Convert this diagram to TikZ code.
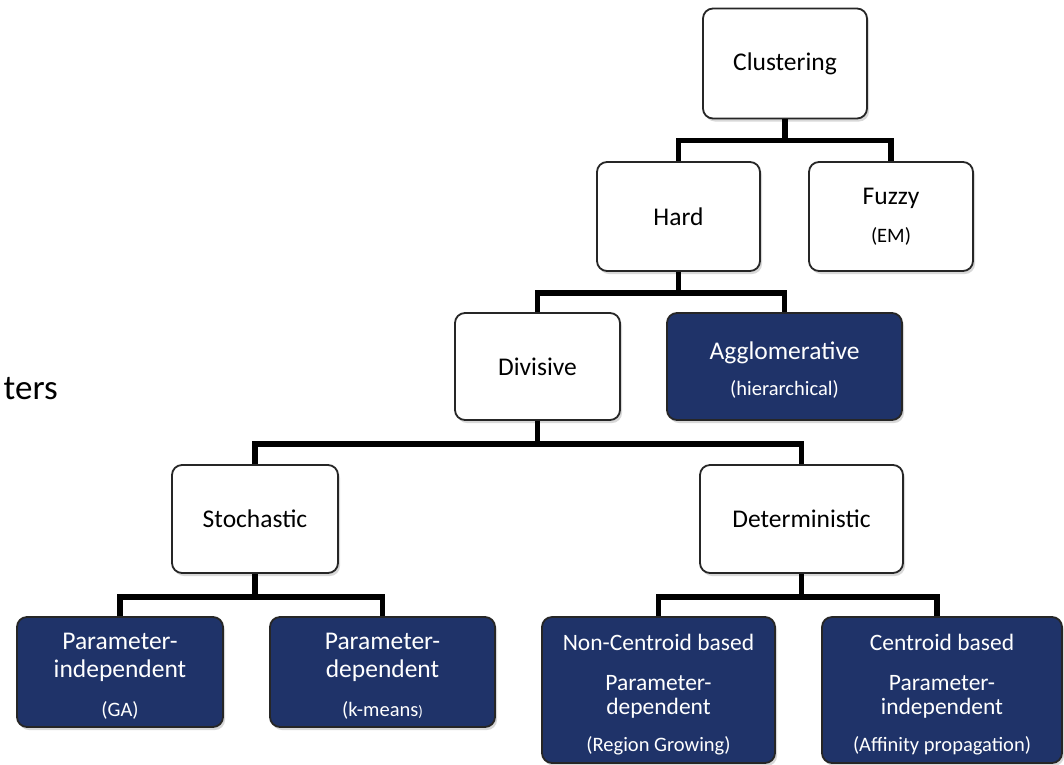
\documentclass[tikz,border=0pt]{standalone}
\usepackage{fontspec}
\setmainfont{Carlito}
\usetikzlibrary{shadows}
\definecolor{navy}{RGB}{31,51,105}
\newcommand\smtxt[1]{{\fontsize{20.5}{30}\selectfont #1}}
\newcommand\topstrut[1]{\rule{0pt}{#1}}
\newcommand\botstrut[1]{\rule[-#1]{0pt}{#1}}
\begin{document}
\begin{tikzpicture}[x=1pt,y=-1pt,
  box/.style={draw=black!85, line width=1.8pt, rounded corners=10pt, inner sep=0pt, align=center,
    font=\fontsize{25.5}{30}\selectfont,
    drop shadow={opacity=0.3, shadow xshift=2pt, shadow yshift=-3pt}},
  wbox/.style={box, fill=white, text=black},
  dbox/.style={box, fill=navy, text=white},
  conn/.style={line width=5.5pt, black},
]
\useasboundingbox (0,0) rectangle (1064,764);
\fill[white] (0,0) rectangle (1064,764);

\node[anchor=base east, inner sep=0pt, font=\fontsize{35}{40}\selectfont] (ters) at (58,399) {ters};

\node[wbox, minimum width=164pt, minimum height=110pt] (clus) at (785,63.5) {Clustering};
\node[wbox, minimum width=163pt, minimum height=109pt] (hard) at (678.5,216.5) {Hard};
\node[wbox, minimum width=164pt, minimum height=109pt] (fuzzy) at (891,216.5) {Fuzzy\\[8pt]\smtxt{(EM)}};
\node[wbox, minimum width=165pt, minimum height=107pt] (div) at (537.5,366.5) {Divisive};
\node[dbox, minimum width=235pt, minimum height=107pt] (agg) at (784.5,366.5) {\topstrut{29pt}Agglomerative\\[6pt]\smtxt{(hierarchical)}\botstrut{8pt}};
\node[wbox, minimum width=166pt, minimum height=108pt] (sto) at (255,519) {Stochastic};
\node[wbox, minimum width=203pt, minimum height=108pt] (det) at (801.5,519) {Deterministic};
\node[dbox, minimum width=206pt, minimum height=110pt] (ga) at (120,672) {\topstrut{29pt}Parameter-\\[-2pt]independent\\[9pt]\smtxt{(GA)}\botstrut{8pt}};
\node[dbox, minimum width=225pt, minimum height=110pt] (km) at (382.5,672) {\topstrut{29pt}Parameter-\\[-2pt]dependent\\[9pt]\smtxt{(k-means}{\fontsize{15}{30}\selectfont)}\botstrut{8pt}};
\node[dbox, minimum width=233pt, minimum height=146pt, font=\fontsize{23.5}{24}\selectfont] (nc) at (658.5,690) {\topstrut{29pt}Non-Centroid based\\[16pt]Parameter-\\dependent\\[13pt]\smtxt{(Region Growing)}\botstrut{8pt}};
\node[dbox, minimum width=240pt, minimum height=146pt, font=\fontsize{23.5}{24}\selectfont] (cen) at (942,690) {\topstrut{29pt}Centroid based\\[16pt]Parameter-\\independent\\[13pt]\smtxt{(Affinity propagation)}\botstrut{8pt}};

\draw[conn] (clus.south) -- ++(0,21) coordinate (j1);
\draw[conn] (hard.north) |- (j1) -| (fuzzy.north);
\draw[conn] (hard.south) -- ++(0,21) coordinate (j2);
\draw[conn] (div.north) |- (j2) -| (agg.north);
\draw[conn] (div.south) -- ++(0,23) coordinate (j3);
\draw[conn] (sto.north) |- (j3) -| (det.north);
\draw[conn] (sto.south) -- ++(0,23) coordinate (j4);
\draw[conn] (ga.north) |- (j4) -| (km.north);
\draw[conn] (det.south) -- ++(0,23) coordinate (j5);
\draw[conn] (nc.north) |- (j5) -| ([xshift=-5pt]cen.north);
\end{tikzpicture}
\end{document}
